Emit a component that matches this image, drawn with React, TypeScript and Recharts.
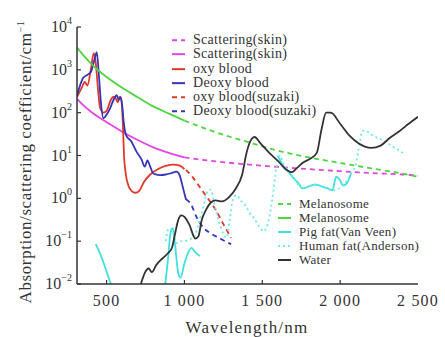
import React from 'react';
import { ComposedChart, Line, XAxis, YAxis } from 'recharts';

type Pt = [number, number];

// wavelength (nm) / coefficient (cm^-1) pairs
const scatterSkin: Pt[] = [[310, 210], [350, 150], [400, 105], [450, 78], [500, 60], [600, 36], [700, 23], [800, 15.5], [900, 11.5], [1000, 9]];
const scatterSkinExt: Pt[] = [[1000, 9], [1200, 7.3], [1400, 6.2], [1600, 5.4], [1800, 4.8], [2000, 4.3], [2200, 3.9], [2400, 3.6], [2500, 3.4]];
const melanosome: Pt[] = [[310, 3300], [350, 2200], [400, 1400], [450, 950], [500, 680], [600, 380], [700, 230], [800, 140], [900, 95], [1000, 65]];
const melanosomeExt: Pt[] = [[1000, 65], [1200, 35], [1400, 21], [1600, 13], [1800, 9], [2000, 6.7], [2200, 5], [2400, 3.8], [2500, 3.2]];
const oxyBlood: Pt[] = [
  [310, 230], [340, 380], [360, 520], [377, 430], [400, 1100], [418, 2450], [430, 1500], [445, 350], [458, 130],
  [480, 100], [500, 110], [525, 190], [545, 235], [560, 210], [572, 175], [585, 235], [592, 220], [600, 120],
  [606, 40], [612, 10], [622, 4], [640, 2], [660, 1.5], [685, 1.35], [710, 1.5], [740, 2.4], [780, 3.6],
  [830, 4.8], [880, 5.7], [930, 6.1], [970, 5.8], [1000, 4.8],
];
const deoxyBlood: Pt[] = [
  [310, 250], [350, 650], [380, 780], [400, 900], [420, 1600], [437, 2600], [450, 800], [465, 150], [480, 74],
  [500, 90], [522, 125], [545, 200], [565, 255], [578, 200], [590, 230], [600, 150], [610, 60], [625, 30],
  [660, 21], [694, 12], [725, 8], [745, 5.5], [762, 7.7], [780, 5.5], [800, 3.8], [840, 3.5], [880, 3.6],
  [910, 3.8], [950, 4.2], [970, 3.4], [990, 1.8], [1010, 0.93],
];
const oxySuzaki: Pt[] = [[1010, 4.6], [1050, 3.2], [1100, 1.8], [1150, 1.0], [1200, 0.55], [1250, 0.25], [1300, 0.12]];
const deoxySuzaki: Pt[] = [[1010, 0.95], [1040, 0.75], [1080, 0.35], [1120, 0.21], [1170, 0.15], [1220, 0.12], [1260, 0.1], [1300, 0.085]];
const water: Pt[] = [
  [720, 0.01], [745, 0.018], [770, 0.023], [790, 0.019], [820, 0.028], [860, 0.04], [900, 0.055], [920, 0.07],
  [940, 0.15], [960, 0.31], [980, 0.4], [1000, 0.37], [1030, 0.25], [1070, 0.115], [1090, 0.13], [1110, 0.3],
  [1140, 0.55], [1170, 0.8], [1200, 0.9], [1240, 0.85], [1290, 1.1], [1330, 1.7], [1370, 3.5], [1400, 12],
  [1430, 24], [1450, 27], [1490, 19], [1550, 11], [1600, 7.5], [1650, 4.8], [1690, 4.1], [1720, 5], [1760, 6.8],
  [1810, 8.5], [1850, 11.5], [1880, 40], [1910, 100], [1940, 100], [2000, 55], [2060, 29], [2120, 19],
  [2200, 15], [2260, 17], [2320, 26], [2380, 37], [2440, 55], [2500, 80],
];
const pigFatA: Pt[] = [[430, 0.085], [460, 0.05], [490, 0.025], [520, 0.012], [540, 0.008]];
const pigFatB: Pt[] = [
  [875, 0.009], [895, 0.04], [910, 0.15], [925, 0.2], [940, 0.08], [960, 0.018], [975, 0.014], [1000, 0.03],
  [1020, 0.05], [1045, 0.07], [1070, 0.055], [1100, 0.045],
];
const pigFatC: Pt[] = [
  [1600, 10], [1630, 6], [1660, 4.5], [1700, 3], [1730, 2.3], [1760, 1.7], [1800, 1.9], [1840, 2.1], [1880, 1.9],
  [1920, 1.7], [1950, 1.55], [1975, 3.2], [1995, 2.8], [2020, 2.0], [2045, 2.3], [2070, 3.8],
];
const humanFat: Pt[] = [
  [880, 0.1], [900, 0.2], [920, 0.18], [950, 0.09], [980, 0.1], [1000, 0.1], [1030, 0.11], [1060, 0.12],
  [1090, 0.25], [1120, 0.6], [1150, 1.5], [1170, 1.6], [1190, 0.8], [1220, 0.3], [1250, 0.15], [1270, 0.12],
  [1290, 0.3], [1310, 0.9], [1335, 1.2], [1360, 0.9], [1390, 0.7], [1420, 0.45], [1450, 0.33], [1480, 0.22],
  [1510, 0.17], [1540, 0.3], [1565, 1.0], [1590, 5], [1610, 10], [1640, 6], [1700, 3], [1760, 1.7], [1840, 2.1],
  [1950, 1.55], [2020, 2.0], [2070, 3.8], [2100, 6], [2125, 20], [2145, 38], [2165, 38], [2190, 33], [2220, 28],
  [2260, 24], [2300, 20], [2340, 16], [2380, 13], [2410, 11],
];

const xTicks = [500, 1000, 1500, 2000, 2500];
const xTickLabels = ['500', '1 000', '1 500', '2 000', '2 500'];
const yTicks = [0.01, 0.1, 1, 10, 100, 1000, 10000];

const FONT = '"Liberation Serif", "Times New Roman", serif';
const TEXT = '#333';
const PLOT_LEFT = 77;
const PLOT_BOTTOM = 284;

const rows = (pts: Pt[]) => pts.map(([x, y]) => ({ x, y }));

const YTick = ({ y, payload }: any) => {
  const exp = Math.round(Math.log10(payload.value));
  return (
    <g>
      <line x1={PLOT_LEFT} x2={PLOT_LEFT + 4} y1={y} y2={y} stroke={TEXT} strokeWidth={1.2} />
      <text x={PLOT_LEFT - 5} y={y + 5} textAnchor="end" fontFamily={FONT} fontSize={16} fill={TEXT}>
        10<tspan dy={-8} fontSize={10}>{exp < 0 ? '−' + -exp : exp}</tspan>
      </text>
    </g>
  );
};

const XTick = ({ x, payload, index }: any) => (
  <g>
    {payload.value < 2500 && <line x1={x} x2={x} y1={PLOT_BOTTOM} y2={PLOT_BOTTOM - 4} stroke={TEXT} strokeWidth={1.2} />}
    <text x={x} y={PLOT_BOTTOM + 22} textAnchor="middle" fontFamily={FONT} fontSize={16} letterSpacing={1.2} fill={TEXT}>
      {xTickLabels[index]}
    </text>
  </g>
);

const series = [
  { name: 'Scattering(skin)', pts: scatterSkinExt, color: '#e046e0', dash: '5 4', legend: 0 },
  { name: 'Scattering(skin)', pts: scatterSkin, color: '#e046e0', dash: undefined, legend: 0 },
  { name: 'oxy blood', pts: oxyBlood, color: '#e0392b', dash: undefined, legend: 0 },
  { name: 'Deoxy blood', pts: deoxyBlood, color: '#3535b8', dash: undefined, legend: 0 },
  { name: 'oxy blood(suzaki)', pts: oxySuzaki, color: '#e0392b', dash: '5 4', legend: 0 },
  { name: 'Deoxy blood(suzaki)', pts: deoxySuzaki, color: '#3535b8', dash: '5 4', legend: 0 },
  { name: 'Melanosome', pts: melanosomeExt, color: '#4cd640', dash: '5 4', legend: 1 },
  { name: 'Melanosome', pts: melanosome, color: '#4cd640', dash: undefined, legend: 1 },
  { name: 'Pig fat(Van Veen)', pts: pigFatA, color: '#3fe0e0', dash: undefined, legend: 1 },
  { name: 'Human fat(Anderson)', pts: humanFat, color: '#6ee8e8', dash: '2 3', legend: 1 },
  { name: 'Water', pts: water, color: '#333333', dash: undefined, legend: 1 },
];

const LegendBox = ({ items, left, top, rowH, sample, fontSize }: any) => (
  <div style={{ position: 'absolute', left, top, fontFamily: FONT, fontSize, lineHeight: `${rowH}px`, color: TEXT, letterSpacing: 0.3 }}>
    {items.map((s: any, i: number) => (
      <div key={i} style={{ height: rowH, display: 'flex', alignItems: 'center', whiteSpace: 'nowrap' }}>
        <svg width={sample + 8} height={rowH}>
          <line x1={0} x2={sample} y1={rowH / 2} y2={rowH / 2} stroke={s.color} strokeWidth={2} strokeDasharray={s.dash} />
        </svg>
        <span>{s.name}</span>
      </div>
    ))}
  </div>
);

export default function App() {
  const line = (key: string, pts: Pt[], color: string, dash?: string) => (
    <Line
      key={key}
      data={rows(pts)}
      dataKey="y"
      type="monotone"
      stroke={color}
      strokeWidth={1.8}
      strokeDasharray={dash}
      dot={false}
      activeDot={false}
      isAnimationActive={false}
    />
  );

  return (
    <div style={{ position: 'absolute', left: 0, top: 0, width: 445, height: 337, background: '#fff' }}>
      <ComposedChart width={445} height={337} margin={{ top: 27, right: 27, left: 0, bottom: 0 }}>
        <XAxis
          dataKey="x"
          type="number"
          domain={[310, 2500]}
          ticks={xTicks}
          allowDataOverflow
          height={53}
          tickLine={false}
          tick={<XTick />}
          stroke={TEXT}
          strokeWidth={1.5}
        />
        <XAxis xAxisId="top" orientation="top" type="number" domain={[310, 2500]} height={0} tick={false} tickLine={false} stroke={TEXT} strokeWidth={1.5} />
        <YAxis
          type="number"
          scale="log"
          domain={[0.01, 10000]}
          ticks={yTicks}
          allowDataOverflow
          width={77}
          tickLine={false}
          tick={<YTick />}
          stroke={TEXT}
          strokeWidth={1.5}
        />
        <YAxis yAxisId="right" orientation="right" width={0} tick={false} tickLine={false} stroke={TEXT} strokeWidth={1.5} />
        {line('pigB', pigFatB, '#3fe0e0')}
        {line('pigC', pigFatC, '#3fe0e0')}
        {series.map((s, i) => line('s' + i, s.pts, s.color, s.dash))}
      </ComposedChart>
      <svg width={445} height={337} style={{ position: 'absolute', left: 0, top: 0, pointerEvents: 'none' }}>
        <text x={247} y={333} textAnchor="middle" fontFamily={FONT} fontSize={17} letterSpacing={1.2} fill={TEXT}>
          Wavelength/nm
        </text>
        <text transform="translate(31,162) rotate(-90)" textAnchor="middle" fontFamily={FONT} fontSize={17} letterSpacing={0.6} fill={TEXT}>
          Absorption/scattering coefficient/cm<tspan dy={-7} fontSize={10}>−1</tspan>
        </text>
      </svg>
      <LegendBox items={series.filter((s) => s.legend === 0)} left={172} top={33} rowH={14.3} sample={13} fontSize={14} />
      <LegendBox items={series.filter((s) => s.legend === 1)} left={278} top={197} rowH={14} sample={13} fontSize={13} />
    </div>
  );
}
